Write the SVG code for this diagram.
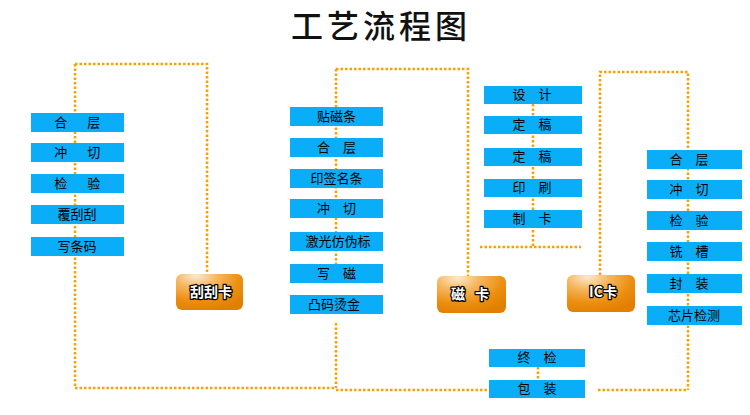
<svg xmlns="http://www.w3.org/2000/svg" width="750" height="415" viewBox="0 0 750 415">
<defs>
<radialGradient id="btn" cx="0.3" cy="0.1" r="0.95" fx="0.3" fy="0.05">
<stop offset="0" stop-color="#fde9cc"/>
<stop offset="0.35" stop-color="#f5b45a"/>
<stop offset="0.7" stop-color="#ec8e10"/>
<stop offset="1" stop-color="#e27e00"/>
</radialGradient>
</defs>
<style>
.bg{fill:#ffffff}
.box{fill:#0aaef8}
.t{font-family:"Noto Sans CJK SC","Noto Sans CJK JP",sans-serif;font-size:13px;fill:#000;text-anchor:middle}
.w{letter-spacing:3.5px}
.btn{fill:url(#btn)}
.bt{font-family:"Noto Sans CJK SC","Noto Sans CJK JP",sans-serif;font-size:14px;font-weight:bold;fill:#fff;stroke:#000;stroke-width:2.5px;paint-order:stroke;stroke-linejoin:round;text-anchor:middle}
.ws{word-spacing:7px}
.title{font-family:"Noto Sans CJK SC","Noto Sans CJK JP",serif;font-size:32px;font-weight:500;fill:#111;text-anchor:middle;letter-spacing:4px}
.c{fill:none;stroke:#f8a100;stroke-width:2.5;stroke-dasharray:2.5 2}
</style>
<rect class="bg" x="0" y="0" width="750" height="415"/>
<text class="title" x="381" y="38">工艺流程图</text>

<g id="connectors">
<path class="c" d="M75,64 H207 V274"/>
<path class="c" d="M75,64 V388 H336"/>
<path class="c" d="M336,69 H468 V276"/>
<path class="c" d="M336,69 V264"/>
<path class="c" d="M336,323 V388"/>
<path class="c" d="M336,390 H487"/>
<path class="c" d="M598,390 H688"/>
<path class="c" d="M600,275 V72 H688 V390"/>
<path class="c" d="M533,104 V247"/>
<path class="c" d="M480,247 H581"/>
<path class="c" d="M538,367 V380"/>
</g>

<g id="n-l1"><rect class="box" x="31" y="113" width="93" height="19"/><text class="t w" x="79" y="126.5">合　层</text></g>
<g id="n-l2"><rect class="box" x="31" y="143" width="93" height="19"/><text class="t w" x="79" y="156.5">冲　切</text></g>
<g id="n-l3"><rect class="box" x="31" y="174" width="93" height="19"/><text class="t w" x="79" y="187.5">检　验</text></g>
<g id="n-l4"><rect class="box" x="31" y="205" width="93" height="19"/><text class="t" x="77" y="218.5">覆刮刮</text></g>
<g id="n-l5"><rect class="box" x="31" y="237" width="93" height="19"/><text class="t" x="77" y="250.5">写条码</text></g>

<g id="n-m1"><rect class="box" x="290" y="107" width="93" height="19"/><text class="t" x="336.5" y="120.5">贴磁条</text></g>
<g id="n-m2"><rect class="box" x="290" y="138" width="93" height="19"/><text class="t" x="336.5" y="151.5">合　层</text></g>
<g id="n-m3"><rect class="box" x="290" y="169" width="93" height="19"/><text class="t" x="336.5" y="182.5">印签名条</text></g>
<g id="n-m4"><rect class="box" x="290" y="199" width="93" height="19"/><text class="t" x="336.5" y="212.5">冲　切</text></g>
<g id="n-m5"><rect class="box" x="290" y="232" width="93" height="19"/><text class="t" x="338" y="245.5">激光仿伪标</text></g>
<g id="n-m6"><rect class="box" x="290" y="264" width="93" height="19"/><text class="t" x="336.5" y="277.5">写　磁</text></g>
<g id="n-m7"><rect class="box" x="290" y="295" width="93" height="19"/><text class="t" x="334" y="308.5">凸码烫金</text></g>

<g id="n-d1"><rect class="box" x="484" y="86" width="98" height="18"/><text class="t" x="532" y="99">设　计</text></g>
<g id="n-d2"><rect class="box" x="484" y="116" width="98" height="18"/><text class="t" x="532" y="129">定　稿</text></g>
<g id="n-d3"><rect class="box" x="484" y="148" width="98" height="18"/><text class="t" x="532" y="161">定　稿</text></g>
<g id="n-d4"><rect class="box" x="484" y="179" width="98" height="18"/><text class="t" x="532" y="192">印　刷</text></g>
<g id="n-d5"><rect class="box" x="484" y="210" width="98" height="18"/><text class="t" x="532" y="223">制　卡</text></g>

<g id="n-r1"><rect class="box" x="647" y="150" width="95" height="19"/><text class="t" x="689" y="163.5">合　层</text></g>
<g id="n-r2"><rect class="box" x="647" y="180" width="95" height="19"/><text class="t" x="689" y="193.5">冲　切</text></g>
<g id="n-r3"><rect class="box" x="647" y="211" width="95" height="19"/><text class="t" x="689" y="224.5">检　验</text></g>
<g id="n-r4"><rect class="box" x="647" y="242" width="95" height="19"/><text class="t" x="689" y="255.5">铣　槽</text></g>
<g id="n-r5"><rect class="box" x="647" y="274" width="95" height="19"/><text class="t" x="689" y="287.5">封　装</text></g>
<g id="n-r6"><rect class="box" x="647" y="306" width="95" height="19"/><text class="t" x="694" y="319.5">芯片检测</text></g>

<g id="n-b1"><rect class="box" x="489" y="349" width="96" height="18"/><text class="t" x="537" y="362">终　检</text></g>
<g id="n-b2"><rect class="box" x="489" y="380" width="96" height="18"/><text class="t" x="537" y="393">包　装</text></g>

<g id="n-scratch"><rect class="btn" x="176" y="274" width="67" height="36" rx="6"/><text class="bt" x="211" y="297">刮刮卡</text></g>
<g id="n-mag"><rect class="btn" x="437" y="276" width="69" height="37" rx="6"/><text class="bt ws" x="470" y="299">磁 卡</text></g>
<g id="n-ic"><rect class="btn" x="567" y="275" width="68" height="37" rx="6"/><text class="bt" x="603" y="297">IC卡</text></g>
</svg>
